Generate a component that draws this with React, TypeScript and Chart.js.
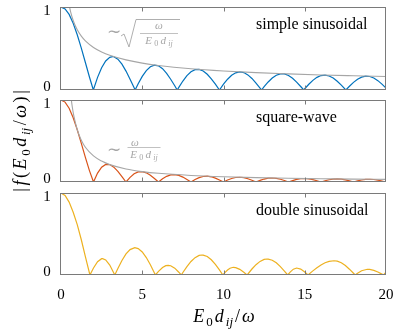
import { useEffect, useRef } from 'react';
import { Chart, registerables } from 'chart.js';
Chart.register(...registerables);

// ---------------- data ----------------
const simpleX = [0, 0.25, 0.5, 0.75, 1.0, 1.25, 1.5, 1.75, 1.99,
  2.25, 2.5, 2.75, 3.0, 3.17, 3.25, 3.5, 3.75, 4.0, 4.25, 4.5, 4.56,
  4.75, 5.0, 5.25, 5.5, 5.75, 6.0, 6.25, 6.5, 6.75, 7.0, 7.15,
  7.25, 7.5, 7.75, 8.0, 8.25, 8.5, 8.75, 9.0, 9.25, 9.5, 9.75,
  10.0, 10.25, 10.5, 10.75, 11.0, 11.25, 11.5, 11.75, 12.0, 12.25, 12.34,
  12.5, 12.75, 13.0, 13.25, 13.5, 13.75, 14.0, 14.25, 14.5, 14.75, 14.94,
  15.0, 15.25, 15.5, 15.75, 16.0, 16.25, 16.5, 16.75, 17.0, 17.25, 17.53,
  17.75, 18.0, 18.25, 18.5, 18.75, 19.0, 19.25, 19.5, 19.75, 20.0];
const simpleY = [1, 0.977, 0.911, 0.805, 0.666, 0.505, 0.331, 0.157, 0,
  0.152, 0.268, 0.350, 0.394, 0.403, 0.401, 0.371, 0.311, 0.228, 0.130, 0.026, 0,
  0.075, 0.164, 0.234, 0.280, 0.300, 0.291, 0.257, 0.201, 0.130, 0.051, 0,
  0.032, 0.108, 0.173, 0.219, 0.245, 0.248, 0.229, 0.190, 0.135, 0.070, 0,
  0.070, 0.130, 0.177, 0.207, 0.218, 0.210, 0.182, 0.139, 0.084, 0.022, 0,
  0.040, 0.097, 0.144, 0.178, 0.195, 0.194, 0.175, 0.141, 0.095, 0.042, 0,
  0.015, 0.069, 0.116, 0.152, 0.174, 0.180, 0.169, 0.144, 0.105, 0.058, 0,
  0.045, 0.092, 0.130, 0.155, 0.167, 0.163, 0.144, 0.113, 0.071, 0.024];

const sqrtEnvX = [0.45, 0.5, 0.6, 0.75, 1, 1.25, 1.5, 2, 2.5, 3, 4, 5, 6, 8, 10, 12, 14, 16, 18, 20];
const sqrtEnvY = [1.081, 1.026, 0.936, 0.838, 0.725, 0.649, 0.592, 0.513, 0.459, 0.419, 0.363, 0.324, 0.296, 0.256, 0.229, 0.209, 0.194, 0.181, 0.171, 0.162];

const squareX = [0, 0.25, 0.5, 0.75, 1, 1.25, 1.5, 1.75, 2, 2.25, 2.5, 2.75, 3, 3.25, 3.5, 3.75, 4,
  4.25, 4.5, 4.75, 5, 5.25, 5.5, 5.75, 6, 6.25, 6.5, 6.75, 7, 7.25, 7.5, 7.75, 8,
  8.25, 8.5, 8.75, 9, 9.25, 9.5, 9.75, 10, 10.25, 10.5, 10.75, 11, 11.25, 11.5, 11.75, 12,
  12.25, 12.5, 12.75, 13, 13.25, 13.5, 13.75, 14, 14.25, 14.5, 14.75, 15, 15.25, 15.5, 15.75, 16,
  16.25, 16.5, 16.75, 17, 17.25, 17.5, 17.75, 18, 18.25, 18.5, 18.75, 19, 19.25, 19.5, 19.75, 20];
const squareY = [1, 0.9745, 0.9003, 0.7842, 0.6366, 0.4705, 0.3001, 0.1392, 0,
  0.1083, 0.1801, 0.2139, 0.2122, 0.1810, 0.1286, 0.0650, 0,
  0.0573, 0.1000, 0.1238, 0.1273, 0.1120, 0.0818, 0.0424, 0,
  0.0390, 0.0693, 0.0871, 0.0909, 0.0811, 0.0600, 0.0314, 0,
  0.0295, 0.0530, 0.0672, 0.0707, 0.0636, 0.0474, 0.0250, 0,
  0.0238, 0.0429, 0.0547, 0.0579, 0.0523, 0.0391, 0.0207, 0,
  0.0199, 0.0360, 0.0461, 0.0490, 0.0444, 0.0333, 0.0177, 0,
  0.0171, 0.0310, 0.0399, 0.0424, 0.0386, 0.0290, 0.0155, 0,
  0.0150, 0.0273, 0.0351, 0.0374, 0.0341, 0.0257, 0.0137, 0,
  0.0134, 0.0243, 0.0314, 0.0335, 0.0306, 0.0231, 0.0123, 0];

const invEnvX = [0.5, 0.6, 0.7, 0.8, 1, 1.25, 1.5, 2, 2.5, 3, 4, 5, 6, 8, 10, 12, 14, 16, 18, 20];
const invEnvY = [1.273, 1.061, 0.909, 0.796, 0.637, 0.509, 0.424, 0.318, 0.255, 0.212, 0.159, 0.127, 0.106, 0.080, 0.064, 0.053, 0.045, 0.040, 0.035, 0.032];

const doubleX = [0, 0.25, 0.5, 0.75, 1.0, 1.25, 1.5, 1.78,
  2.0, 2.25, 2.5, 2.56, 2.75, 3.0, 3.31,
  3.5, 3.75, 4.0, 4.25, 4.54, 4.75, 5.0, 5.25, 5.5, 5.81,
  6.0, 6.25, 6.45, 6.6, 6.75, 7.0, 7.25, 7.4,
  7.5, 7.75, 8.0, 8.25, 8.5, 8.67, 8.75, 9.0, 9.25, 9.5, 9.75, 9.96,
  10.1, 10.25, 10.4, 10.6, 10.75, 11.0, 11.25, 11.45,
  11.5, 11.75, 12.0, 12.25, 12.5, 12.68, 12.75, 13.0, 13.25, 13.5, 13.75, 13.95,
  14.1, 14.3, 14.5, 14.75, 15.0, 15.2,
  15.25, 15.5, 15.75, 16.0, 16.25, 16.5, 16.8, 17.0, 17.25, 17.5, 17.75, 18.0, 18.1,
  18.25, 18.5, 18.85, 19.0, 19.25, 19.5, 19.75, 19.85, 20.0];
const doubleY = [1, 0.971, 0.889, 0.765, 0.615, 0.43, 0.225, 0,
  0.086, 0.162, 0.199, 0.200, 0.184, 0.121, 0,
  0.080, 0.177, 0.257, 0.310, 0.333, 0.322, 0.281, 0.213, 0.125, 0,
  0.044, 0.091, 0.114, 0.118, 0.113, 0.083, 0.034, 0,
  0.030, 0.102, 0.165, 0.212, 0.239, 0.244, 0.243, 0.225, 0.186, 0.130, 0.062, 0,
  0.032, 0.061, 0.083, 0.094, 0.090, 0.069, 0.034, 0,
  0.012, 0.073, 0.126, 0.166, 0.190, 0.195, 0.194, 0.180, 0.149, 0.103, 0.048, 0,
  0.035, 0.071, 0.085, 0.072, 0.037, 0,
  0.009, 0.050, 0.089, 0.123, 0.149, 0.166, 0.174, 0.169, 0.149, 0.115, 0.071, 0.021, 0,
  0.022, 0.052, 0.070, 0.068, 0.057, 0.037, 0.011, 0, 0.035];

const xTickValues = [0, 5, 10, 15, 20];
const xTickLabels = ['0', '5', '10', '15', '20'];
const yTickValues = [0, 1];
const yTickLabels = ['0', '1'];
const panelLabels = ['simple sinusoidal', 'square-wave', 'double sinusoidal'];

// ---------------- styling / layout ----------------
const W = 407, H = 332;
const PAD_LEFT = 61, PAD_RIGHT = W - 386;
const PANELS = [{ top: 7, bottom: 90 }, { top: 100, bottom: 182 }, { top: 193, bottom: 275 }];
const BLUE = '#0072BD', RED = '#D95319', YELLOW = '#EDB120', GRAY = '#a6a6a6';
const FRAME = '#7a7a7a';
const SERIF = '"Liberation Serif", "Times New Roman", serif';
const TEXT = '#000000';

type Run = { t: string; it?: boolean; sub?: boolean };

function drawMath(ctx: CanvasRenderingContext2D, runs: Run[], cx: number, cy: number, size: number, gap: number, color: string) {
  const subSize = Math.round(size * 0.7);
  const fontOf = (r: Run) => `${r.it ? 'italic ' : ''}${r.sub ? subSize : size}px ${SERIF}`;
  const widths: number[] = [];
  let total = 0;
  runs.forEach((r) => { ctx.font = fontOf(r); const w = ctx.measureText(r.t).width; widths.push(w); total += w; });
  total += gap * (runs.length - 1);
  let x = cx - total / 2;
  ctx.fillStyle = color;
  ctx.textAlign = 'left';
  ctx.textBaseline = 'alphabetic';
  const base = cy + size * 0.33;
  runs.forEach((r, i) => {
    ctx.font = fontOf(r);
    ctx.fillText(r.t, x, base + (r.sub ? size * 0.22 : 0));
    x += widths[i] + gap;
  });
}

const denomRuns: Run[] = [{ t: 'E', it: true }, { t: '0', sub: true }, { t: 'd', it: true }, { t: 'ij', it: true, sub: true }];

function makePlugin(idx: number) {
  return {
    id: 'decor' + idx,
    afterDatasetsDraw(chart: any) {
      const { ctx, chartArea: a, scales } = chart;
      const xs = scales.x;
      ctx.save();
      // frame
      ctx.strokeStyle = FRAME;
      ctx.lineWidth = 1;
      const L = Math.round(a.left) - 0.5, R = Math.round(a.right) - 0.5;
      const T = Math.round(a.top) + 0.5, B = Math.round(a.bottom) - 0.5;
      ctx.strokeRect(L, T, R - L, B - T);
      // inward ticks
      ctx.beginPath();
      xTickValues.forEach((v) => {
        if (v === 0 || v === 20) return;
        const px = Math.round(xs.getPixelForValue(v)) + 0.5;
        ctx.moveTo(px, T); ctx.lineTo(px, T + 4);
        ctx.moveTo(px, B); ctx.lineTo(px, B - 4);
      });
      ctx.stroke();
      // y tick labels
      ctx.fillStyle = TEXT;
      ctx.font = `15px ${SERIF}`;
      ctx.textAlign = 'center';
      ctx.textBaseline = 'middle';
      yTickValues.forEach((v, i) => {
        const y = v === 1 ? a.top + 4.5 : a.bottom - 3;
        ctx.fillText(yTickLabels[i], 47, y);
      });
      // panel label
      ctx.font = `16px ${SERIF}`;
      ctx.textAlign = 'left';
      ctx.textBaseline = 'alphabetic';
      ctx.fillText(panelLabels[idx], xs.getPixelForValue(12), a.top + 21.5);

      if (idx === 0) {
        // ~ sqrt(w / (E0 dij))
        ctx.fillStyle = GRAY;
        ctx.strokeStyle = GRAY;
        ctx.font = `17px ${SERIF}`;
        ctx.textAlign = 'center';
        ctx.textBaseline = 'middle';
        ctx.fillText('\u223C', 114, 33);
        ctx.lineWidth = 0.9;
        ctx.beginPath();
        ctx.moveTo(121, 36); ctx.lineTo(124, 34); ctx.lineTo(129, 47); ctx.lineTo(136, 19.5); ctx.lineTo(180, 19.5);
        ctx.stroke();
        ctx.font = `italic 11px ${SERIF}`;
        ctx.fillText('\u03C9', 159, 26.5);
        ctx.lineWidth = 0.7;
        ctx.beginPath(); ctx.moveTo(140, 33.5); ctx.lineTo(178, 33.5); ctx.stroke();
        drawMath(ctx, denomRuns, 159, 40, 11, 2.2, GRAY);

        // y title
        ctx.save();
        ctx.translate(20, 141);
        ctx.rotate(-Math.PI / 2);
        drawMath(ctx, [{ t: '|' }, { t: 'f', it: true }, { t: '(' }, { t: 'E', it: true }, { t: '0', sub: true },
          { t: 'd', it: true }, { t: 'ij', it: true, sub: true }, { t: '/' }, { t: '\u03C9', it: true }, { t: ')' }, { t: '|' }],
          0, 0, 18, 2.6, TEXT);
        ctx.restore();
      }
      if (idx === 1) {
        ctx.fillStyle = GRAY;
        ctx.strokeStyle = GRAY;
        ctx.font = `17px ${SERIF}`;
        ctx.textAlign = 'center';
        ctx.textBaseline = 'middle';
        ctx.fillText('\u223C', 114, 150.5);
        ctx.font = `italic 11px ${SERIF}`;
        ctx.fillText('\u03C9', 135, 143);
        ctx.lineWidth = 0.7;
        ctx.beginPath(); ctx.moveTo(127.5, 147.5); ctx.lineTo(160.5, 147.5); ctx.stroke();
        drawMath(ctx, denomRuns, 144, 154, 11, 2.2, GRAY);
      }
      if (idx === 2) {
        ctx.fillStyle = TEXT;
        ctx.font = `15px ${SERIF}`;
        ctx.textAlign = 'center';
        ctx.textBaseline = 'middle';
        xTickValues.forEach((v, i) => ctx.fillText(xTickLabels[i], xs.getPixelForValue(v), 295));
        drawMath(ctx, [{ t: 'E', it: true }, { t: '0', sub: true }, { t: 'd', it: true }, { t: 'ij', it: true, sub: true },
          { t: '/' }, { t: '\u03C9', it: true }], 224, 316, 18, 2, TEXT);
      }
      ctx.restore();
    },
  };
}

const pts = (xs: number[], ys: number[]) => xs.map((x, i) => ({ x, y: ys[i] }));

function line(data: { x: number; y: number }[], color: string, width = 1.2) {
  return { data, borderColor: color, borderWidth: width, pointRadius: 0, tension: 0, fill: false };
}

const PANEL_DATA = [
  [line(pts(sqrtEnvX, sqrtEnvY), GRAY, 1.1), line(pts(simpleX, simpleY), BLUE)],
  [line(pts(invEnvX, invEnvY), GRAY, 1.1), line(pts(squareX, squareY), RED)],
  [line(pts(doubleX, doubleY), YELLOW)],
];

function Panel({ idx }: { idx: number }) {
  const ref = useRef<HTMLCanvasElement>(null);
  useEffect(() => {
    if (!ref.current) return;
    const p = PANELS[idx];
    const datasets = PANEL_DATA[idx].map((d: any) => ({
      ...d,
      cubicInterpolationMode: d.borderColor === GRAY ? 'monotone' : 'default',
      tension: d.borderColor === GRAY ? 0.4 : 0,
    }));
    const chart = new Chart(ref.current, {
      type: 'line',
      data: { datasets },
      options: {
        animation: false,
        responsive: false,
        devicePixelRatio: 1,
        layout: { padding: { left: PAD_LEFT, right: PAD_RIGHT, top: p.top, bottom: H - p.bottom } },
        plugins: { legend: { display: false }, tooltip: { enabled: false } },
        events: [],
        scales: {
          x: { type: 'linear', min: 0, max: 20, display: false },
          y: { type: 'linear', min: 0, max: 1, display: false },
        },
      },
      plugins: [makePlugin(idx)],
    } as any);
    return () => chart.destroy();
  }, [idx]);
  return <canvas ref={ref} width={W} height={H} style={{ position: 'absolute', left: 0, top: 0, width: W, height: H }} />;
}

export default function App() {
  return (
    <div style={{ position: 'absolute', left: 0, top: 0, width: W, height: H, background: '#fff' }}>
      <Panel idx={0} />
      <Panel idx={1} />
      <Panel idx={2} />
    </div>
  );
}
